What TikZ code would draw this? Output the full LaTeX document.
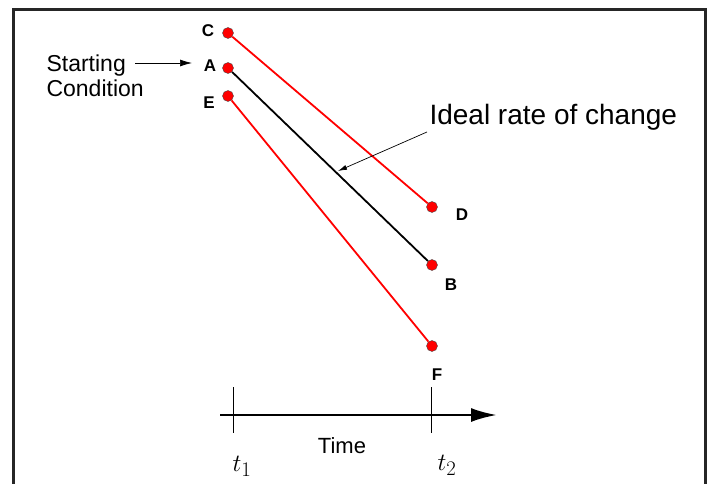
\documentclass[tikz,border=0pt]{standalone}
\usepackage{fontspec}
\setmainfont{Liberation Sans}
\usepackage{amsmath}
\usetikzlibrary{arrows.meta}
\tikzset{
  ptdot/.style    = {circle,draw=black!70,fill=red,line width=0.4pt,inner sep=0pt,minimum size=11pt},
  ptlab/.style    = {font=\fontsize{17}{19}\selectfont\bfseries},
  redline/.style  = {red,line width=1.8pt},
  blkline/.style  = {black,line width=1.8pt},
  thinarr/.style  = {-{Latex[length=12pt,width=7pt]},line width=0.7pt},
  timearr/.style  = {-{Latex[length=26pt,width=14pt]},line width=2.6pt}
}

\begin{document}
\begin{tikzpicture}[x=1pt,y=-1pt]
  \useasboundingbox (0,0) rectangle (709,484);
  \draw[line width=3pt,black!85] (13.5,500) -- (13.5,9.5) -- (705.5,9.5) -- (705.5,500);

  \node[ptdot] (C) at (228,33)  {};
  \node[ptdot] (A) at (228,68)  {};
  \node[ptdot] (E) at (228,96)  {};
  \node[ptdot] (D) at (432,207) {};
  \node[ptdot] (B) at (432,265) {};
  \node[ptdot] (F) at (432,346) {};
  \draw[redline] (C) -- (D);
  \draw[blkline] (A) -- (B);
  \draw[redline] (E) -- (F);
  \node[ptlab] (labC) at (208,31)  {C};
  \node[ptlab] (labA) at (210,66)  {A};
  \node[ptlab] (labE) at (209,103) {E};
  \node[ptlab] (labD) at (462,215) {D};
  \node[ptlab] (labB) at (451,285) {B};
  \node[ptlab] (labF) at (437,375) {F};

  \node[font=\fontsize{23}{25}\selectfont,align=left,anchor=west] (start) at (43,76) {Starting\\Condition};
  \coordinate (startend) at (135,63);
  \coordinate (startend2) at (192,63);
  \draw[thinarr] (startend) -- (startend2);

  \node[font=\fontsize{28}{32}\selectfont,anchor=west] (ideal) at (426,117) {Ideal rate of change};
  \coordinate (idealtail) at (427,132);
  \coordinate (idealtip) at (338,171);
  \draw[thinarr,-{Latex[length=9pt,width=5pt]}] (idealtail) -- (idealtip);

  \coordinate (t0) at (220,415);
  \coordinate (tend) at (497,415);
  \draw[timearr] (t0) -- (tend);
  \draw[line width=0.7pt] (233,387) -- (233,433);
  \draw[line width=0.7pt] (431,387) -- (431,433);
  \node[font=\fontsize{22}{26}\selectfont] (time) at (342,446) {Time};
  \node[font=\fontsize{30}{34}\selectfont] (t1) at (242,466) {$t_1$};
  \node[font=\fontsize{30}{34}\selectfont] (t2) at (447,465) {$t_2$};
\end{tikzpicture}
\end{document}
